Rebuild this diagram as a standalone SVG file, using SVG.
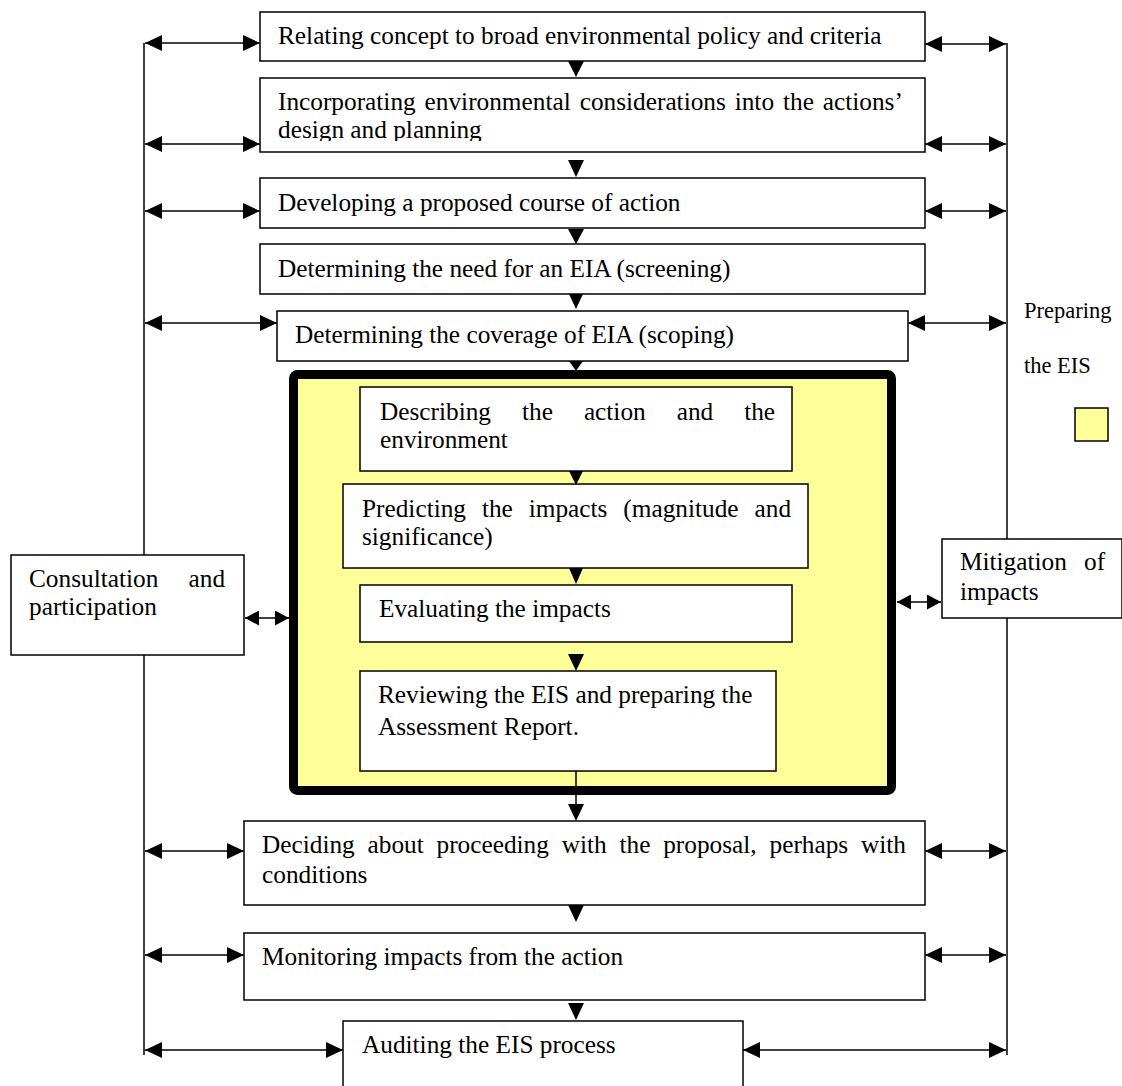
<svg xmlns="http://www.w3.org/2000/svg" width="1122" height="1086" viewBox="0 0 1122 1086">
<style>
.box{fill:#fff;stroke:#000;stroke-width:1.5}
.t{font-family:"Liberation Serif","Times New Roman",serif;font-size:25.3px;fill:#000}
.s{font-size:22.5px}
.c{stroke:#000;stroke-width:1.5;fill:none}
.dbl{marker-start:url(#ah);marker-end:url(#ah)}
.dbs{marker-start:url(#ahs);marker-end:url(#ahs)}
.tri{fill:#000}
</style>
<defs>
<marker id="ah" markerUnits="userSpaceOnUse" markerWidth="18" markerHeight="16" refX="17" refY="8" orient="auto-start-reverse"><path d="M0,0 L17,8 L0,16 z" fill="#000"/></marker>
<marker id="ahs" markerUnits="userSpaceOnUse" markerWidth="15" markerHeight="15" refX="14" refY="7.5" orient="auto-start-reverse"><path d="M0,0 L14,7.5 L0,15 z" fill="#000"/></marker>
<clipPath id="clip2"><rect x="260" y="78" width="665" height="63"/></clipPath>
</defs>

<g id="eis-frame">
<rect x="293.5" y="374.5" width="598" height="416" rx="4" fill="#FFFF99" stroke="#000" stroke-width="9"/>
</g>

<g id="n1"><rect class="box" x="260" y="12" width="665" height="49"/><text class="t" x="278" y="44">Relating concept to broad environmental policy and criteria</text></g>
<g id="n2"><rect class="box" x="260" y="78" width="665" height="74"/>
<g clip-path="url(#clip2)"><text class="t" y="110"><tspan x="278">Incorporating</tspan><tspan x="424.6">environmental</tspan><tspan x="579.7">considerations</tspan><tspan x="734.7">into</tspan><tspan x="783">the</tspan><tspan x="822.8">actions’</tspan></text>
<text class="t" x="278" y="138">design and planning</text></g></g>
<g id="n3"><rect class="box" x="260" y="178" width="665" height="50"/><text class="t" x="278" y="211">Developing a proposed course of action</text></g>
<g id="n4"><rect class="box" x="260" y="244" width="665" height="50"/><text class="t" x="278" y="277">Determining the need for an EIA (screening)</text></g>
<g id="n5"><rect class="box" x="277" y="311" width="631" height="50"/><text class="t" x="295" y="343">Determining the coverage of EIA (scoping)</text></g>
<g id="n6"><rect class="box" x="360" y="387" width="432" height="84"/><text class="t" y="420"><tspan x="380">Describing</tspan><tspan x="522">the</tspan><tspan x="583.9">action</tspan><tspan x="676.7">and</tspan><tspan x="744.2">the</tspan></text><text class="t" x="380" y="448">environment</text></g>
<g id="n7"><rect class="box" x="343" y="484" width="465" height="84"/><text class="t" y="517"><tspan x="362">Predicting</tspan><tspan x="481.9">the</tspan><tspan x="528.7">impacts</tspan><tspan x="623.3">(magnitude</tspan><tspan x="754.5">and</tspan></text><text class="t" x="362" y="545">significance)</text></g>
<g id="n8"><rect class="box" x="360" y="585" width="432" height="57"/><text class="t" x="379" y="617">Evaluating the impacts</text></g>
<g id="n9"><rect class="box" x="360" y="671" width="416" height="100"/><text class="t" x="378" y="703">Reviewing the EIS and preparing the</text><text class="t" x="378" y="735">Assessment Report.</text></g>
<g id="n10"><rect class="box" x="244" y="821" width="681" height="84"/><text class="t" y="853"><tspan x="262">Deciding</tspan><tspan x="367.5">about</tspan><tspan x="436.5">proceeding</tspan><tspan x="561.7">with</tspan><tspan x="619.5">the</tspan><tspan x="663.2">proposal,</tspan><tspan x="769.5">perhaps</tspan><tspan x="861">with</tspan></text><text class="t" x="262" y="883">conditions</text></g>
<g id="n11"><rect class="box" x="244" y="933" width="681" height="67"/><text class="t" x="262" y="965">Monitoring impacts from the action</text></g>
<g id="n12"><rect class="box" x="343" y="1021" width="400" height="80"/><text class="t" x="362" y="1053">Auditing the EIS process</text></g>
<g id="consultation"><rect class="box" x="11" y="555" width="233" height="100"/><text class="t" y="587"><tspan x="29">Consultation</tspan><tspan x="188.5">and</tspan></text><text class="t" x="29" y="615">participation</text></g>
<g id="mitigation"><rect class="box" x="942" y="539" width="180" height="79"/><text class="t" y="570"><tspan x="960">Mitigation</tspan><tspan x="1084">of</tspan></text><text class="t" x="960" y="600">impacts</text></g>
<g id="legend"><text class="t s" x="1024" y="318">Preparing</text><text class="t s" x="1024" y="373">the EIS</text><rect x="1075" y="408" width="33" height="33" fill="#FFFF99" stroke="#000" stroke-width="1.5"/></g>

<g id="connectors">
<line class="c" x1="144" y1="43" x2="144" y2="555"/>
<line class="c" x1="144" y1="655" x2="144" y2="1055"/>
<line class="c" x1="1007" y1="43" x2="1007" y2="539"/>
<line class="c" x1="1007" y1="618" x2="1007" y2="1055"/>
<line class="c dbl" x1="145" y1="43" x2="260" y2="43"/>
<line class="c dbl" x1="925" y1="44" x2="1006" y2="44"/>
<line class="c dbl" x1="145" y1="144" x2="260" y2="144"/>
<line class="c dbl" x1="925" y1="144" x2="1006" y2="144"/>
<line class="c dbl" x1="145" y1="211" x2="260" y2="211"/>
<line class="c dbl" x1="925" y1="211" x2="1006" y2="211"/>
<line class="c dbl" x1="145" y1="323" x2="277" y2="323"/>
<line class="c dbl" x1="908" y1="323" x2="1006" y2="323"/>
<line class="c dbl" x1="145" y1="851" x2="244" y2="851"/>
<line class="c dbl" x1="925" y1="851" x2="1006" y2="851"/>
<line class="c dbl" x1="145" y1="955" x2="244" y2="955"/>
<line class="c dbl" x1="925" y1="955" x2="1006" y2="955"/>
<line class="c dbl" x1="145" y1="1050" x2="343" y2="1050"/>
<line class="c dbl" x1="743" y1="1050" x2="1006" y2="1050"/>
<line class="c dbs" x1="245" y1="618" x2="289" y2="618"/>
<line class="c dbs" x1="897" y1="602" x2="941" y2="602"/>
<line class="c" x1="576" y1="771" x2="576" y2="806"/>
<polygon class="tri" points="568,61 584,61 576,77"/>
<polygon class="tri" points="568,160 584,160 576,177"/>
<polygon class="tri" points="568,229 584,229 576,244"/>
<polygon class="tri" points="569,294 583,294 576,309"/>
<polygon class="tri" points="569,361 583,361 576,371"/>
<polygon class="tri" points="569,471 583,471 576,485"/>
<polygon class="tri" points="569,568 583,568 576,584"/>
<polygon class="tri" points="568,654 584,654 576,671"/>
<polygon class="tri" points="568,804 584,804 576,821"/>
<polygon class="tri" points="568,905 584,905 576,922"/>
<polygon class="tri" points="568,1003 584,1003 576,1020"/>
</g>
</svg>
